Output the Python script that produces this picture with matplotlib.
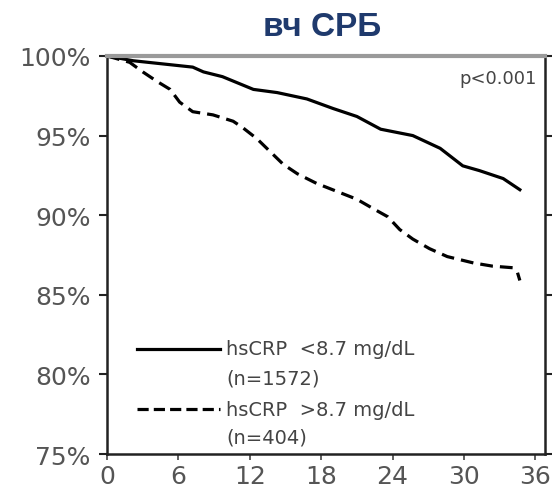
import matplotlib
matplotlib.use("Agg")
from matplotlib import pyplot as plt
from matplotlib.ticker import FuncFormatter

# survival curves, months vs event-free fraction
months_low = [0, 2.2, 7.2, 8.1, 9.7, 12.3, 14.3, 16.8, 19.0, 21.0, 23.0,
              25.7, 28.0, 29.9, 31.3, 33.3, 34.7]
surv_low = [1.0, 0.997, 0.993, 0.990, 0.987, 0.979, 0.977, 0.973, 0.967,
            0.962, 0.954, 0.950, 0.942, 0.931, 0.928, 0.923, 0.916]

months_high = [0, 1.9, 3.0, 4.2, 5.3, 6.1, 7.2, 8.9, 10.6, 11.4, 12.6, 13.7,
               14.8, 16.0, 17.6, 19.3, 21.0, 22.4, 23.6, 24.6, 25.7, 27.1,
               28.6, 30.8, 32.4, 34.1, 34.5, 34.7]
surv_high = [1.0, 0.996, 0.990, 0.984, 0.979, 0.971, 0.965, 0.963, 0.959,
             0.955, 0.948, 0.940, 0.932, 0.926, 0.920, 0.915, 0.910, 0.904,
             0.899, 0.891, 0.885, 0.879, 0.874, 0.870, 0.868, 0.867, 0.864,
             0.859]

x_ticks = [0, 6, 12, 18, 24, 30, 36]
y_ticks = [0.75, 0.80, 0.85, 0.90, 0.95, 1.00]

title = "вч СРБ"
label_low = ["hsCRP  <8.7 mg/dL", "(n=1572)"]
label_high = ["hsCRP  >8.7 mg/dL", "(n=404)"]
p_text = "p<0.001"

grey = "#555555"
navy = "#1f3a6d"

fig = plt.figure(figsize=(5.52, 4.89), dpi=100)
ax = fig.add_axes([0.194, 0.0695, 0.793, 0.814])

ax.plot(months_low, surv_low, color="black", lw=2.3, solid_joinstyle="round")
ax.plot(months_high, surv_high, color="black", lw=2.3, dashes=(4, 2.2))

ax.set_xlim(0, 36.8)
ax.set_ylim(0.75, 1.0)
ax.set_xticks(x_ticks)
ax.set_yticks(y_ticks)
ax.yaxis.set_major_formatter(FuncFormatter(lambda v, pos: "%d%%" % round(v * 100)))

ax.tick_params(axis="y", length=6, width=1.5, pad=6, labelsize=18,
               labelcolor=grey, right=True, color="#222222")
ax.tick_params(axis="x", length=4, width=1.2, pad=3, labelsize=18,
               labelcolor=grey, color="#444444")

for side in ["left", "bottom", "right"]:
    ax.spines[side].set_linewidth(1.8)
    ax.spines[side].set_color("#222222")
ax.spines["top"].set_linewidth(3)
ax.spines["top"].set_color("#9a9a9a")

# hand-drawn legend, two lines of text per entry
ax.plot([0.068, 0.258], [0.264, 0.264], transform=ax.transAxes,
        color="black", lw=2.3, clip_on=False)
ax.plot([0.068, 0.258], [0.113, 0.113], transform=ax.transAxes,
        color="black", lw=2.3, dashes=(3.5, 1.6), clip_on=False)
ax.text(0.272, 0.264, label_low[0], transform=ax.transAxes, va="center",
        fontsize=14, color="#444444")
ax.text(0.272, 0.190, label_low[1], transform=ax.transAxes, va="center",
        fontsize=14, color="#444444")
ax.text(0.272, 0.113, label_high[0], transform=ax.transAxes, va="center",
        fontsize=14, color="#444444")
ax.text(0.272, 0.042, label_high[1], transform=ax.transAxes, va="center",
        fontsize=14, color="#444444")

ax.text(0.982, 0.945, p_text, transform=ax.transAxes, ha="right",
        va="center", fontsize=13, color="#444444")

fig.text(0.583, 0.943, title, ha="center", va="center", fontsize=24,
         fontweight="bold", color=navy, family="Liberation Sans")

fig.savefig("out.png", dpi=100)
